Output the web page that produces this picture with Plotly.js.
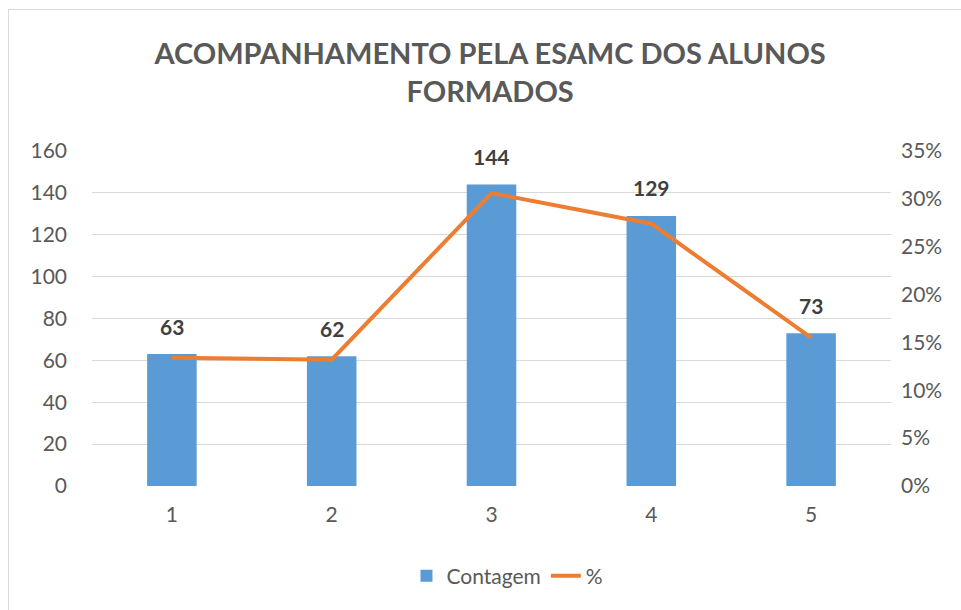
<!DOCTYPE html>
<html>
<head>
<meta charset="utf-8">
<script src="https://cdn.plot.ly/plotly-3.0.1.min.js"></script>
<style>
html,body{margin:0;padding:0;background:#fff;}
#chart{width:961px;height:610px;}
#frame{position:absolute;left:8px;top:9px;width:960px;height:610px;border-left:1px solid #d9d9d9;border-top:1px solid #d9d9d9;pointer-events:none;}
</style>
</head>
<body>
<div id="chart"></div>
<div id="frame"></div>
<script>
var categories = ['1', '2', '3', '4', '5'];
var contagem = [63, 62, 144, 129, 73];
var percent = [13.4, 13.2, 30.6, 27.4, 15.5];
var leftTicks = [0, 20, 40, 60, 80, 100, 120, 140, 160];
var rightTicks = [0, 5, 10, 15, 20, 25, 30, 35];
var rightTickLabels = ['0%', '5%', '10%', '15%', '20%', '25%', '30%', '35%'];

var font = 'Lato, "Open Sans", sans-serif';

var bars = {
  type: 'bar', x: categories, y: contagem, name: 'Contagem',
  marker: {color: '#5B9BD5'}, width: 0.31, hoverinfo: 'none'
};
var line = {
  type: 'scatter', mode: 'lines', x: categories, y: percent, name: '%',
  yaxis: 'y2', line: {color: '#ED7D31', width: 4}, hoverinfo: 'none'
};

var annotations = categories.map(function (c, i) {
  return {x: i, y: contagem[i], xref: 'x', yref: 'y', text: String(contagem[i]),
    showarrow: false, yshift: 28, font: {family: font, size: 21, color: '#404040', weight: 'bold'}};
});

var layout = {
  width: 961, height: 610,
  margin: {l: 92, r: 70, t: 151, b: 124},
  paper_bgcolor: '#fff', plot_bgcolor: '#fff',
  title: {text: 'ACOMPANHAMENTO PELA ESAMC DOS ALUNOS<br>FORMADOS', x: 0.51, xanchor: 'center', y: 0.895, yanchor: 'top',
    font: {family: font, size: 29, color: '#595959', weight: 'bold'}},
  showlegend: true,
  legend: {orientation: 'h', x: 0.52, xanchor: 'center', y: -0.269, yanchor: 'middle',
    font: {family: font, size: 21, color: '#595959'}},
  xaxis: {type: 'category', showgrid: false, zeroline: false, showline: false, ticks: '',
    tickfont: {family: font, size: 21, color: '#595959'}, ticklabelstandoff: 14},
  yaxis: {range: [0, 160], tickvals: leftTicks, showgrid: true, gridcolor: '#d9d9d9', gridwidth: 1,
    zeroline: false, showline: false, ticks: '', tickfont: {family: font, size: 21, color: '#595959'},
    ticklabelstandoff: 24},
  yaxis2: {range: [0, 35], tickvals: rightTicks, ticktext: rightTickLabels, overlaying: 'y', side: 'right',
    showgrid: false, zeroline: false, showline: false, ticks: '',
    tickfont: {family: font, size: 21, color: '#595959'}, ticklabelstandoff: 9},
  annotations: annotations,
  hovermode: false
};

Plotly.newPlot('chart', [bars, line], layout, {displayModeBar: false, staticPlot: true});
</script>
</body>
</html>
